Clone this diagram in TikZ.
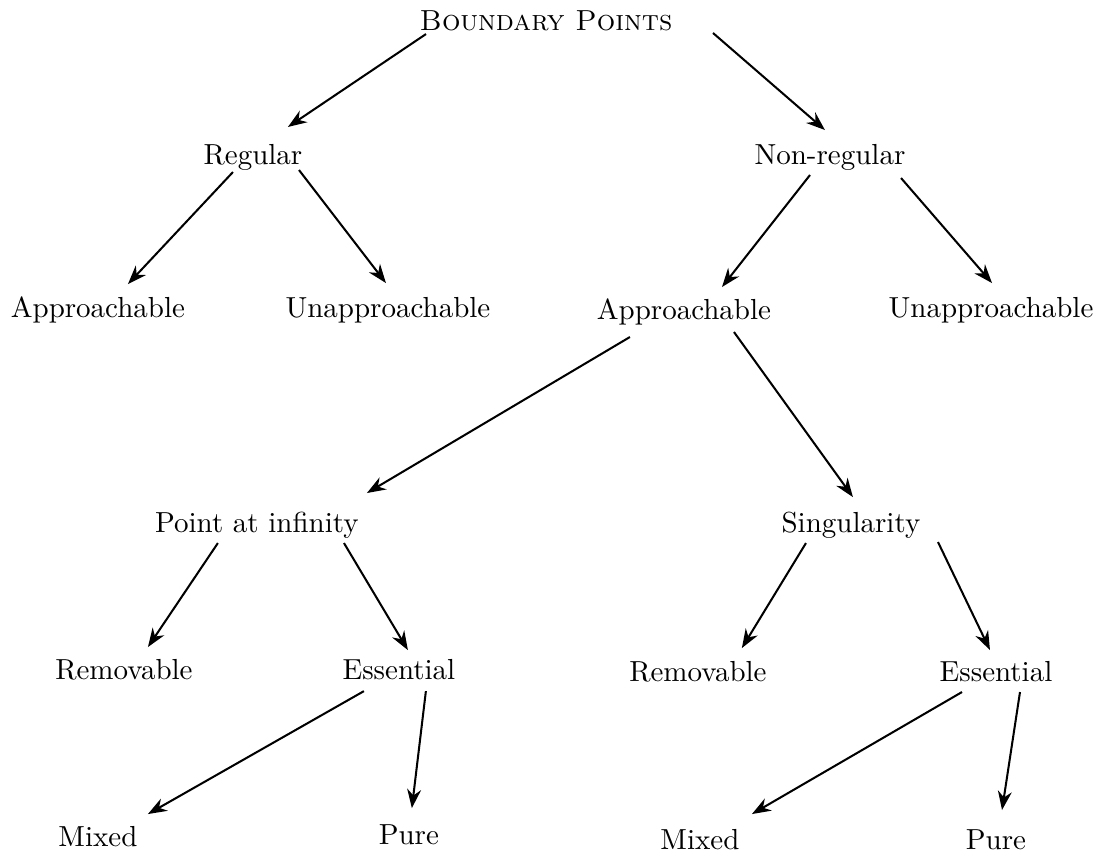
\documentclass[tikz,border=0pt]{standalone}
\usepackage{tikz}
\usetikzlibrary{arrows.meta,positioning}

\begin{document}
\begin{tikzpicture}[on grid,
    arr/.style={line width=0.7pt, -{Stealth[length=6.5pt,width=4.8pt]}}]
  \useasboundingbox (0,0) rectangle (13.345,-10.352);

  \node (bp) at (6.618,-0.255) {\textsc{Boundary Points}};
  \node (reg)    [below left  = 1.648cm and 3.552cm of bp] {Regular};
  \node (nonreg) [below right = 1.648cm and 3.442cm of bp] {Non-regular};

  \node (appL)   [below left  = 1.855cm and 1.879cm of reg] {Approachable};
  \node (unappL) [below right = 1.855cm and 1.636cm of reg] {Unapproachable};
  \node (appM)   [below left  = 1.879cm and 1.770cm of nonreg] {Approachable};
  \node (unappR) [below right = 1.855cm and 1.952cm of nonreg] {Unapproachable};

  \node (pinf) [below left  = 2.582cm and 5.176cm of appM] {Point at infinity};
  \node (sing) [below right = 2.582cm and 2.024cm of appM] {Singularity};

  \node (remL) [below left  = 1.758cm and 1.612cm of pinf] {Removable};
  \node (essL) [below right = 1.758cm and 1.721cm of pinf] {Essential};
  \node (remR) [below left  = 1.782cm and 1.855cm of sing] {Removable};
  \node (essR) [below right = 1.782cm and 1.758cm of sing] {Essential};

  \node (mixL)  [below left  = 2.024cm and 3.648cm of essL] {Mixed};
  \node (pureL) [below right = 2.0cm and 0.121cm of essL] {Pure};
  \node (mixR)  [below left  = 2.036cm and 3.588cm of essR] {Mixed};
  \node (pureR) [below = 2.036cm of essR] {Pure};

  % top levels
  \draw[arr] ([shift={(-1.455,-0.158)}]bp.center) -- ([shift={(0.424,0.364)}]reg.center);
  \draw[arr] ([shift={(2.024,-0.145)}]bp.center) -- ([shift={(-0.061,0.327)}]nonreg.center);
  \draw[arr] ([shift={(-0.242,-0.182)}]reg.center) -- ([shift={(0.364,0.315)}]appL.center);
  \draw[arr] ([shift={(0.558,-0.158)}]reg.center) -- ([shift={(-0.024,0.327)}]unappL.center);
  \draw[arr] ([shift={(-0.242,-0.218)}]nonreg.center) -- ([shift={(0.461,0.303)}]appM.center);
  \draw[arr] ([shift={(0.861,-0.255)}]nonreg.center) -- ([shift={(0.012,0.327)}]unappR.center);

  % approachable branch
  \draw[arr] ([shift={(-0.655,-0.303)}]appM.center) -- ([shift={(1.333,0.388)}]pinf.center);
  \draw[arr] ([shift={(0.606,-0.242)}]appM.center) -- ([shift={(0.024,0.339)}]sing.center);
  \draw[arr] ([shift={(-0.473,-0.218)}]pinf.center) -- ([shift={(0.291,0.279)}]remL.center);
  \draw[arr] ([shift={(1.055,-0.218)}]pinf.center) -- ([shift={(0.109,0.242)}]essL.center);
  \draw[arr] ([shift={(-0.545,-0.218)}]sing.center) -- ([shift={(0.533,0.291)}]remR.center);
  \draw[arr] ([shift={(1.055,-0.206)}]sing.center) -- ([shift={(-0.073,0.267)}]essR.center);

  % essential
  \draw[arr] ([shift={(-0.424,-0.255)}]essL.center) -- ([shift={(0.606,0.279)}]mixL.center);
  \draw[arr] ([shift={(0.327,-0.255)}]essL.center) -- ([shift={(0.036,0.327)}]pureL.center);
  \draw[arr] ([shift={(-0.412,-0.242)}]essR.center) -- ([shift={(0.630,0.315)}]mixR.center);
  \draw[arr] ([shift={(0.291,-0.242)}]essR.center) -- ([shift={(0.073,0.364)}]pureR.center);
\end{tikzpicture}
\end{document}
